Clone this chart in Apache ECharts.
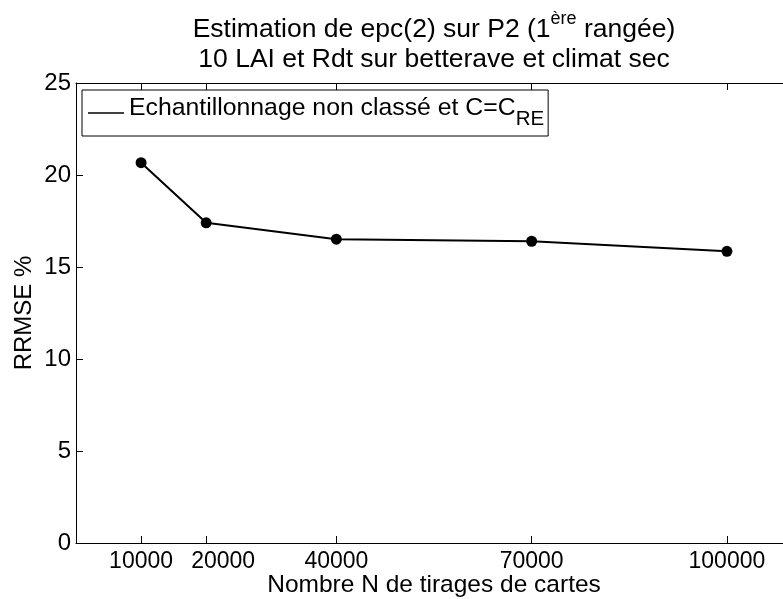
<!DOCTYPE html>
<html>
<head>
<meta charset="utf-8">
<script src="https://cdn.jsdelivr.net/npm/echarts@6/dist/echarts.min.js"></script>
<style>
  html, body { margin: 0; padding: 0; background: #ffffff; overflow: hidden; }
  /* the plot box runs a few pixels past the right edge of the window */
  #chart { width: 792px; height: 599px; }
</style>
</head>
<body>
<div id="chart"></div>
<script>
// Number of map draws (x) and the resulting RRMSE in percent (y)
const tirages = [10000, 20000, 40000, 70000, 100000];
const rrmse = [20.67, 17.40, 16.51, 16.40, 15.85];
const xTickValues = [10000, 20000, 40000, 70000, 100000];
const seriesName = 'Echantillonnage non classé et C=C';

const FONT = '"Liberation Sans", Arial, Helvetica, sans-serif';
const chart = echarts.init(document.getElementById('chart'), null, { renderer: 'canvas' });

const tickCommon = { show: true, inside: true, length: 7, lineStyle: { color: '#000', width: 1 } };
const lineCommon = { show: true, onZero: false, lineStyle: { color: '#000', width: 1 } };

chart.setOption({
  backgroundColor: '#ffffff',
  animation: false,
  title: {
    text: '{m|Estimation de epc(2) sur P2 (1}{p|ère}{m| rangée)}\n{m|10 LAI et Rdt sur betterave et climat sec}',
    left: 429,
    textAlign: 'center',
    top: 8,
    textStyle: {
      fontFamily: FONT, fontSize: 26.5, fontWeight: 'normal', color: '#000',
      rich: {
        m: { fontFamily: FONT, fontSize: 26.5, color: '#000', lineHeight: 30, verticalAlign: 'bottom' },
        p: { fontFamily: FONT, fontSize: 18, color: '#000', lineHeight: 30, verticalAlign: 'bottom', padding: [0, 0, 15, 0] }
      }
    }
  },
  legend: {
    left: 82,
    top: 90,
    orient: 'vertical',
    padding: [6, 4, 6, 6],
    backgroundColor: '#ffffff',
    borderColor: '#000',
    borderWidth: 1,
    borderRadius: 0,
    icon: 'rect',
    itemWidth: 36,
    itemHeight: 1.5,
    data: [seriesName],
    formatter: name => '{t|' + name + '}{s|RE}',
    textStyle: {
      fontFamily: FONT, fontSize: 24.8, color: '#000',
      rich: {
        t: { fontFamily: FONT, fontSize: 24.8, color: '#000', lineHeight: 34, verticalAlign: 'bottom', padding: [0, 0, 9, 0] },
        s: { fontFamily: FONT, fontSize: 20.5, color: '#000', lineHeight: 24, verticalAlign: 'bottom' }
      }
    }
  },
  grid: { left: 76, right: 0, top: 83, bottom: 56, containLabel: false, outerBoundsMode: 'none' },
  xAxis: [
    {
      type: 'value', position: 'bottom', min: 0, max: 110000,
      name: 'Nombre N de tirages de cartes',
      nameLocation: 'middle', nameGap: 30, nameMoveOverlap: false,
      nameTextStyle: { fontFamily: FONT, fontSize: 24.5, color: '#000' },
      axisLine: lineCommon,
      axisTick: Object.assign({ customValues: xTickValues }, tickCommon),
      axisLabel: {
        customValues: xTickValues, hideOverlap: false,
        // the 20000 label sits a little to the right of its tick
        formatter: v => (v === 20000 ? '{r|' + v + '}' : String(v)),
        rich: { r: { fontFamily: FONT, fontSize: 23, color: '#000', padding: [0, 0, 0, 34] } },
        fontFamily: FONT, fontSize: 23, color: '#000', margin: 7
      },
      splitLine: { show: false }
    },
    {
      type: 'value', position: 'top', min: 0, max: 110000,
      axisLine: lineCommon,
      axisTick: Object.assign({ customValues: xTickValues }, tickCommon),
      axisLabel: { show: false, customValues: xTickValues },
      splitLine: { show: false }
    }
  ],
  yAxis: [
    {
      type: 'value', position: 'left', min: 0, max: 25, interval: 5,
      name: 'RRMSE %',
      nameLocation: 'middle', nameGap: 40, nameRotate: 90, nameMoveOverlap: false,
      nameTextStyle: { fontFamily: FONT, fontSize: 24, color: '#000' },
      axisLine: lineCommon,
      axisTick: tickCommon,
      axisLabel: { fontFamily: FONT, fontSize: 24, color: '#000', margin: 5 },
      splitLine: { show: false }
    },
    {
      type: 'value', position: 'right', min: 0, max: 25, interval: 5,
      axisLine: lineCommon,
      axisTick: Object.assign({}, tickCommon, { length: 9 }),
      axisLabel: { show: false },
      splitLine: { show: false }
    }
  ],
  series: [
    {
      name: seriesName,
      type: 'line',
      xAxisIndex: 0,
      yAxisIndex: 0,
      data: tirages.map((x, i) => [x, rrmse[i]]),
      symbol: 'circle',
      symbolSize: 11,
      showSymbol: true,
      lineStyle: { color: '#000', width: 2 },
      itemStyle: { color: '#000' },
      emphasis: { disabled: true }
    }
  ]
});
</script>
</body>
</html>
